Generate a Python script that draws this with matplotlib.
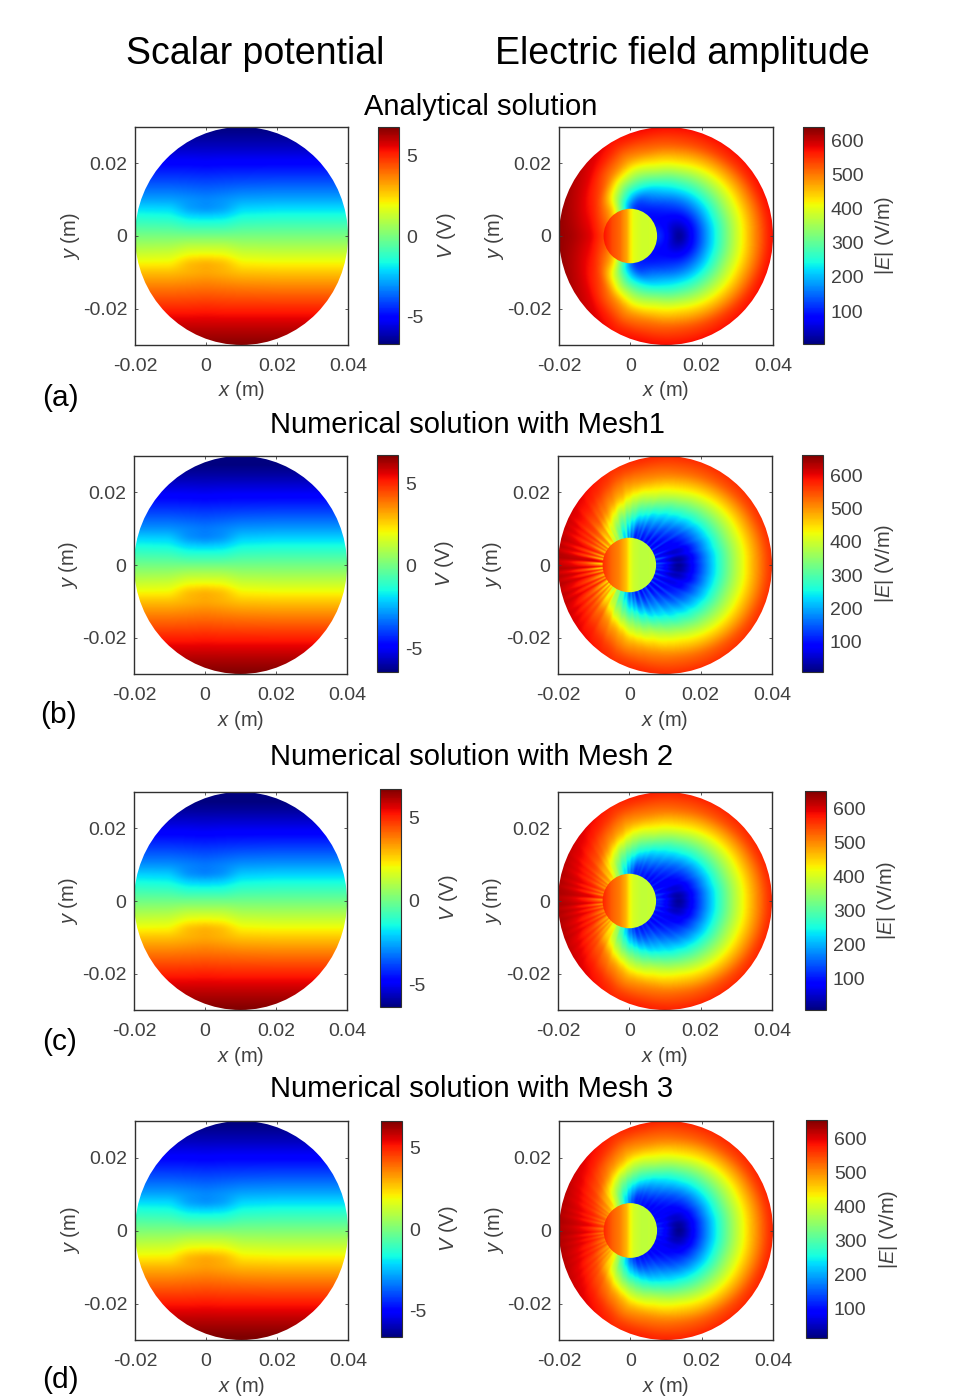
import numpy as np
import matplotlib
matplotlib.use('Agg')
import matplotlib.pyplot as plt
from matplotlib.patches import Circle
from matplotlib.cm import ScalarMappable
from matplotlib.colors import Normalize

plt.rcParams['font.family'] = ['Liberation Sans', 'DejaVu Sans']
plt.rcParams['mathtext.fontset'] = 'custom'
plt.rcParams['mathtext.rm'] = 'Liberation Sans'
plt.rcParams['mathtext.it'] = 'Liberation Sans:italic'
plt.rcParams['axes.unicode_minus'] = False

W, H = 957, 1398

# ---- values ----
v_x = [-0.02, -0.01, -0.005, 0.0, 0.005, 0.01, 0.02, 0.03, 0.04]
v_y_upper = [0.03, 0.025, 0.02, 0.015, 0.01, 0.0075, 0.005, 0.0025, 0.0]
v_upper = [
    [-6.7, -6.7, -6.7, -6.7, -6.7, -6.7, -6.7, -6.7, -6.7],
    [-6.0, -6.0, -6.0, -6.0, -6.0, -6.0, -6.0, -6.0, -6.0],
    [-5.05, -5.05, -5.05, -5.1, -5.05, -5.05, -5.05, -5.05, -5.05],
    [-4.0, -4.0, -4.05, -4.1, -4.05, -4.0, -3.95, -3.95, -3.95],
    [-2.85, -2.85, -3.0, -3.15, -3.0, -2.8, -2.75, -2.75, -2.75],
    [-2.05, -2.1, -2.9, -3.15, -2.9, -2.15, -2.05, -2.05, -2.05],
    [-1.35, -1.45, -1.9, -2.0, -1.9, -1.45, -1.35, -1.35, -1.35],
    [-0.67, -0.72, -1.0, -1.0, -1.0, -0.72, -0.67, -0.67, -0.67],
    [0.0, 0.0, 0.0, 0.0, 0.0, 0.0, 0.0, 0.0, 0.0],
]

e_theta = [0, 30, 60, 90, 110, 125, 140, 150, 160, 170, 180]
e_r = [0.0, 0.005, 0.01, 0.015, 0.02, 0.025, 0.03, 0.035, 0.04]
e_table = [
    [5, 115, 240, 360, 465, 560, 610, 640, 660],
    [5, 105, 230, 350, 455, 555, 600, 640, 660],
    [5, 90, 200, 320, 435, 540, 590, 630, 650],
    [5, 75, 165, 285, 420, 520, 575, 620, 650],
    [5, 70, 140, 245, 390, 500, 565, 605, 640],
    [5, 70, 115, 195, 335, 470, 550, 590, 620],
    [5, 75, 90, 125, 305, 490, 570, 605, 635],
    [5, 85, 85, 105, 340, 525, 585, 615, 645],
    [5, 95, 100, 200, 455, 550, 595, 625, 650],
    [5, 105, 120, 300, 500, 570, 605, 630, 650],
    [5, 110, 130, 350, 520, 585, 615, 630, 650],
]
inner_x = [-0.0075, -0.005, -0.003, -0.001, 0.0, 0.001, 0.003, 0.005, 0.0075]
inner_e = [570, 530, 510, 470, 425, 400, 385, 385, 390]

# irregular mesh streaks around the inclusion, one value per 3 degrees
streak = [0, 45, -10, 0, 60, 0, -15, 50, 0, 10, -20, 55, 0, 0, 40, -10, 0, 35, -15, 0,
          30, 0, -10, 40, 0, 20, -15, 0, 45, 0, 60, -10, 75, 0, -15, 35, 0, 10, 30, -20,
          15, -35, 30, -10, -45, 25, 10, -50, 35, -30, 20, -60, 10, 40, -70, 25, -90, 40, 60, -110,
          -40, 50, -120, 30, -70, 45, -25, -60, 40, -45, 60, -20, -55, 35, -60, 30, -35, 25, -50, -10,
          45, -20, 0, 30, -30, 15, 25, -10, 35, 0, -15, 45, 0, 50, -10, 0, 55, 0, -15, 40,
          0, 20, 55, -10, 0, 45, 0, -15, 60, 0, 10, 45, -15, 0, 50, 0, -10, 35, 0, 15]
streak_dist = [0.0, 0.002, 0.005, 0.009, 0.014, 0.02]
streak_env = [1.0, 0.85, 0.45, 0.2, 0.06, 0.0]

panel_gain = [0.0, 1.0, 0.5, 0.3]
row_tags = ['(a)', '(b)', '(c)', '(d)']
row_titles = ['Analytical solution', 'Numerical solution with Mesh1',
              'Numerical solution with Mesh 2', 'Numerical solution with Mesh 3']
v_limits = [(-6.7, 6.8), (-6.4, 6.7), (-6.35, 6.7), (-6.6, 6.6)]
e_limits = [(4, 638), (10, 660), (6, 653), (12, 653)]
v_ticks = [-5, 0, 5]
e_ticks = [100, 200, 300, 400, 500, 600]
x_ticks = [-0.02, 0, 0.02, 0.04]
y_ticks = [-0.02, 0, 0.02]

# ---- pixel layout: axes (x0, x1, y0, y1) ----
left_ax = [(135, 348, 127, 345), (134, 347, 456, 674), (134, 347, 792, 1010), (135, 348, 1121, 1340)]
left_cb = [(378, 399, 127, 344), (377, 398, 455, 672), (380, 401, 789, 1007), (381, 402, 1121, 1337)]
right_ax = [(559, 773, 127, 345), (558, 772, 456, 674), (558, 772, 792, 1010), (559, 773, 1121, 1340)]
right_cb = [(803, 824, 127, 344), (802, 823, 455, 672), (805, 826, 791, 1010), (806, 827, 1120, 1338)]
title_pos = [(481, 107), (467, 425), (472, 757), (472, 1089)]
tag_pos = [(42, 398), (40, 715), (42, 1042), (42, 1380)]

fig = plt.figure(figsize=(W / 100, H / 100), dpi=100, facecolor='white')
GRAY = '#404040'
TICK_FS = 14
LABEL_FS = 14.5


def add_ax(box):
    x0, x1, y0, y1 = box
    return fig.add_axes([x0 / W, 1 - y1 / H, (x1 - x0) / W, (y1 - y0) / H])


def lookup(xq, yq, xs, ys, table):
    table = np.asarray(table, float)
    fx = np.interp(xq, xs, np.arange(len(xs)))
    fy = np.interp(yq, ys, np.arange(len(ys)))
    ix = np.clip(fx.astype(int), 0, len(xs) - 2)
    iy = np.clip(fy.astype(int), 0, len(ys) - 2)
    tx, ty = fx - ix, fy - iy
    return (table[iy, ix] * (1 - tx) * (1 - ty) + table[iy, ix + 1] * tx * (1 - ty)
            + table[iy + 1, ix] * (1 - tx) * ty + table[iy + 1, ix + 1] * tx * ty)


def blur(a, n=15):
    k = np.ones(n) / n
    for axis in (0, 1):
        for _ in range(2):
            p = np.moveaxis(a, axis, 0)
            pad = np.concatenate([np.repeat(p[:1], n, 0), p, np.repeat(p[-1:], n, 0)])
            s = np.apply_along_axis(lambda c: np.convolve(c, k, mode='same'), 0, pad)[n:-n]
            a = np.moveaxis(s, 0, axis)
    return a


gx = np.linspace(-0.02, 0.04, 480)
gy = np.linspace(-0.03, 0.03, 480)
X, Y = np.meshgrid(gx, gy)
extent = (-0.02, 0.04, -0.03, 0.03)

# scalar potential grid from the table (lower half mirrors the upper half)
v_y_full = [-y for y in v_y_upper[:-1]] + list(reversed(v_y_upper))
v_full = np.vstack([-np.array(v_upper)[:-1], np.array(v_upper)[::-1]])
V_field = blur(lookup(X, Y, v_x, v_y_full, v_full), 15)

# field amplitude from the polar table around the field minimum
CX = 0.0138
R = np.hypot(X - CX, Y)
TH = np.degrees(np.abs(np.arctan2(Y, X - CX)))
E_base = blur(lookup(R, TH, e_r, e_theta, e_table), 15)
E_inner = np.interp(X, inner_x, inner_e)

PHI = np.mod(np.degrees(np.arctan2(Y, X)), 360)
DIST = np.clip(np.hypot(X, Y) - 0.0075, 0, None)
streak_ang = np.arange(len(streak) + 1) * 3
streak_closed = streak + streak[:1]
STREAK = np.interp(PHI, streak_ang, streak_closed) * np.interp(DIST, streak_dist, streak_env)


def style_field_ax(ax, box):
    ax.set_xlim(-0.02, 0.04)
    ax.set_ylim(-0.03, 0.03)
    ax.set_aspect('auto')
    ax.set_xticks(x_ticks)
    ax.set_xticklabels(['-0.02', '0', '0.02', '0.04'])
    ax.set_yticks(y_ticks)
    ax.set_yticklabels(['-0.02', '0', '0.02'])
    ax.tick_params(direction='in', length=2, width=0.6, color=GRAY, labelcolor=GRAY,
                   labelsize=TICK_FS, top=True, right=True)
    ax.tick_params(axis='x', pad=9.5)
    ax.tick_params(axis='y', pad=5.5)
    ax.set_xlabel(r'$\it{x}$ (m)', fontsize=LABEL_FS, color=GRAY, va='center')
    ax.set_ylabel(r'$\it{y}$ (m)', fontsize=LABEL_FS, color=GRAY, va='center')
    bw, bh = box[1] - box[0], box[3] - box[2]
    ax.xaxis.set_label_coords(0.5, -46 / bh)
    ax.yaxis.set_label_coords(-65 / bw, 0.5)
    for s in ax.spines.values():
        s.set_linewidth(1.0)
        s.set_color('#303030')


def add_cbar(box, lims, ticks, label, dx):
    cax = add_ax(box)
    sm = ScalarMappable(norm=Normalize(*lims), cmap='jet')
    cb = fig.colorbar(sm, cax=cax)
    cb.set_ticks(ticks)
    cb.set_ticklabels([str(t) for t in ticks])
    cb.ax.tick_params(length=0, labelsize=TICK_FS, labelcolor=GRAY, pad=5)
    cb.outline.set_linewidth(0.8)
    cb.outline.set_edgecolor('#303030')
    cb.set_label(label, fontsize=LABEL_FS, color=GRAY, va='center')
    cb.ax.yaxis.set_label_coords(1 + dx / (box[1] - box[0]), 0.5)
    cb.ax.minorticks_off()


for i in range(4):
    # scalar potential
    ax = add_ax(left_ax[i])
    im = ax.imshow(V_field, origin='lower', extent=extent, cmap='jet',
                   vmin=v_limits[i][0], vmax=v_limits[i][1], interpolation='bilinear')
    im.set_clip_path(Circle((0.01, 0), 0.03, transform=ax.transData))
    style_field_ax(ax, left_ax[i])
    add_cbar(left_cb[i], v_limits[i], v_ticks, r'$\it{V}$ (V)', 47)

    # field amplitude
    ax = add_ax(right_ax[i])
    im = ax.imshow(E_base + panel_gain[i] * STREAK, origin='lower', extent=extent, cmap='jet',
                   vmin=e_limits[i][0], vmax=e_limits[i][1], interpolation='bilinear')
    im.set_clip_path(Circle((0.01, 0), 0.03, transform=ax.transData))
    im2 = ax.imshow(E_inner, origin='lower', extent=extent, cmap='jet',
                    vmin=e_limits[i][0], vmax=e_limits[i][1], interpolation='bilinear')
    im2.set_clip_path(Circle((0, 0), 0.0075, transform=ax.transData))
    style_field_ax(ax, right_ax[i])
    add_cbar(right_cb[i], e_limits[i], e_ticks, r'|$\it{E}$| (V/m)', 61)

    fig.text(title_pos[i][0] / W, 1 - title_pos[i][1] / H, row_titles[i],
             ha='center', va='center', fontsize=21, color='black')
    fig.text(tag_pos[i][0] / W, 1 - tag_pos[i][1] / H, row_tags[i],
             ha='left', va='center', fontsize=21.5, color='black')

fig.text(255 / W, 1 - 54 / H, 'Scalar potential', ha='center', va='center', fontsize=27, color='black')
fig.text(682 / W, 1 - 54 / H, 'Electric field amplitude', ha='center', va='center', fontsize=27, color='black')

fig.savefig('out.png', dpi=100, facecolor='white')
